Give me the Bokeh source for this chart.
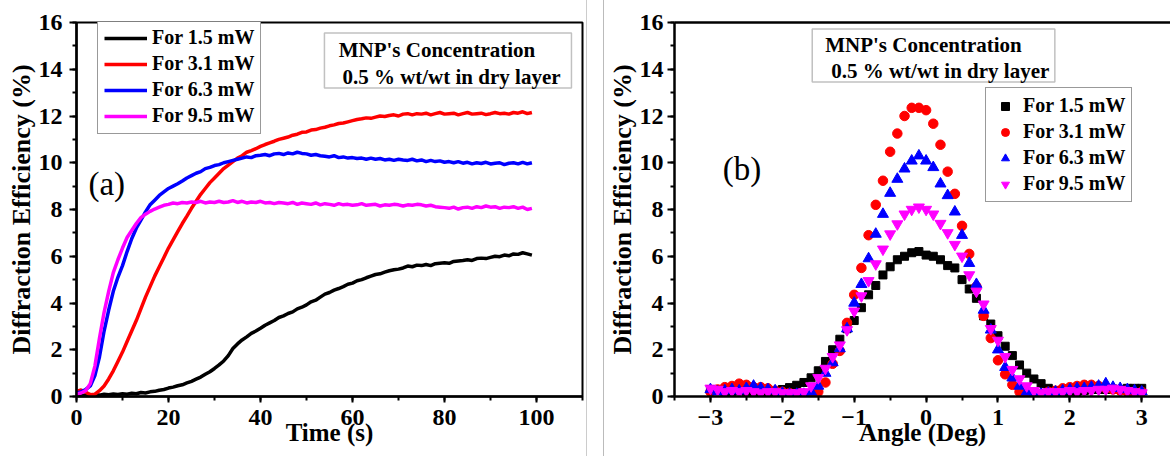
from bokeh.plotting import figure
from bokeh.models import (Legend, LegendItem, Label, BoxAnnotation, LinearAxis,
                          SingleIntervalTicker, FixedTicker, Range1d, Div)
from bokeh.layouts import row
from bokeh.embed import file_html
from bokeh.resources import INLINE

# ---------------- data: panel (a) ----------------
time_s = list(range(100))

de_15_mw = [0.05, 0.03, 0.06, 0.04, 0.08, 0.06, 0.1, 0.08, 0.11, 0.09,
            0.12, 0.1, 0.14, 0.12, 0.17, 0.15, 0.2, 0.22, 0.27, 0.3,
            0.36, 0.4, 0.46, 0.5, 0.58, 0.65, 0.74, 0.83, 0.95, 1.06,
            1.2, 1.35, 1.52, 1.75, 2.05, 2.25, 2.42, 2.55, 2.7, 2.8,
            2.92, 3.05, 3.15, 3.25, 3.38, 3.45, 3.55, 3.62, 3.75, 3.82,
            3.92, 4.05, 4.12, 4.25, 4.38, 4.45, 4.55, 4.62, 4.7, 4.8,
            4.85, 4.95, 5.0, 5.08, 5.15, 5.22, 5.25, 5.32, 5.38, 5.42,
            5.45, 5.5, 5.58, 5.55, 5.62, 5.6, 5.65, 5.6, 5.68, 5.7,
            5.72, 5.7, 5.78, 5.8, 5.82, 5.85, 5.82, 5.9, 5.92, 5.9,
            5.95, 6.0, 5.98, 6.05, 6.02, 6.1, 6.08, 6.15, 6.1, 6.05]

de_31_mw = [0.22, 0.28, 0.18, 0.08, 0.1, 0.25, 0.45, 0.75, 1.1, 1.5,
            1.9, 2.35, 2.8, 3.25, 3.75, 4.25, 4.7, 5.15, 5.55, 5.95,
            6.35, 6.7, 7.05, 7.4, 7.72, 8.05, 8.35, 8.65, 8.9, 9.15,
            9.35, 9.55, 9.75, 9.9, 10.05, 10.2, 10.3, 10.45, 10.52, 10.6,
            10.7, 10.78, 10.85, 10.92, 11.0, 11.05, 11.1, 11.18, 11.22, 11.3,
            11.32, 11.4, 11.42, 11.48, 11.52, 11.58, 11.62, 11.68, 11.7, 11.75,
            11.8, 11.85, 11.88, 11.92, 11.9, 11.95, 12.0, 11.98, 12.02, 12.05,
            12.0, 12.08, 12.1, 12.05, 12.1, 12.08, 12.12, 12.05, 12.1, 12.15,
            12.08, 12.1, 12.12, 12.05, 12.1, 12.15, 12.08, 12.1, 12.12, 12.06,
            12.1, 12.15, 12.1, 12.12, 12.08, 12.15, 12.12, 12.18, 12.1, 12.15]

de_63_mw = [0.15, 0.2, 0.3, 0.45, 0.9, 1.7, 2.8, 3.7, 4.5, 5.1,
            5.6, 6.2, 6.75, 7.2, 7.55, 7.9, 8.2, 8.4, 8.6, 8.75,
            8.9, 9.0, 9.1, 9.22, 9.35, 9.45, 9.55, 9.62, 9.75, 9.8,
            9.88, 9.92, 10.0, 10.05, 10.1, 10.15, 10.2, 10.25, 10.22, 10.3,
            10.32, 10.35, 10.3, 10.38, 10.4, 10.35, 10.42, 10.38, 10.45, 10.4,
            10.38, 10.32, 10.35, 10.3, 10.28, 10.25, 10.3, 10.22, 10.25, 10.2,
            10.22, 10.18, 10.2, 10.15, 10.2, 10.15, 10.18, 10.12, 10.15, 10.1,
            10.15, 10.12, 10.1, 10.15, 10.08, 10.12, 10.05, 10.1, 10.05, 10.08,
            10.02, 10.05, 10.0, 10.05, 9.98, 10.02, 9.95, 10.0, 9.97, 10.02,
            9.95, 9.98, 10.0, 9.92, 9.98, 10.0, 9.95, 10.02, 9.95, 10.0]

de_95_mw = [0.1, 0.15, 0.25, 0.55, 1.3, 2.5, 3.6, 4.5, 5.3, 5.85,
            6.35, 6.8, 7.1, 7.4, 7.65, 7.8, 7.92, 8.02, 8.1, 8.18,
            8.22, 8.28, 8.25, 8.3, 8.28, 8.32, 8.3, 8.35, 8.28, 8.32,
            8.3, 8.35, 8.3, 8.32, 8.38, 8.3, 8.35, 8.28, 8.32, 8.3,
            8.35, 8.28, 8.3, 8.25, 8.3, 8.28, 8.25, 8.3, 8.22, 8.28,
            8.25, 8.22, 8.28, 8.2, 8.25, 8.22, 8.18, 8.25, 8.2, 8.22,
            8.18, 8.2, 8.25, 8.18, 8.2, 8.22, 8.15, 8.2, 8.18, 8.22,
            8.2, 8.15, 8.2, 8.18, 8.22, 8.2, 8.15, 8.18, 8.12, 8.1,
            8.08, 8.05, 8.1, 8.02, 8.08, 8.1, 8.05, 8.12, 8.08, 8.15,
            8.1, 8.12, 8.05, 8.1, 8.08, 8.12, 8.05, 8.1, 8.0, 8.05]

# ---------------- data: panel (b) ----------------
angle_deg = [round(-3.0 + 0.1 * i, 1) for i in range(61)]

ang_15_mw = [0.3, 0.25, 0.2, 0.2, 0.25, 0.2, 0.2, 0.18, 0.2, 0.22,
             0.3, 0.38, 0.48, 0.6, 0.8, 1.1, 1.5, 2.0, 2.45, 2.9,
             3.25, 3.8, 4.35, 4.75, 5.2, 5.55, 5.85, 6.0, 6.15, 6.2,
             6.05, 6.0, 5.85, 5.6, 5.5, 5.0, 4.6, 4.2, 3.45, 3.1,
             2.6, 2.15, 1.75, 1.35, 1.0, 0.75, 0.55, 0.35, 0.25, 0.2,
             0.2, 0.22, 0.25, 0.3, 0.3, 0.3, 0.32, 0.3, 0.35, 0.35, 0.35]

ang_31_mw = [0.2, 0.3, 0.4, 0.45, 0.55, 0.5, 0.4, 0.4, 0.35, 0.25,
             0.2, 0.15, 0.1, 0.05, 0.1, 0.2, 0.6, 1.4, 1.95, 3.15,
             4.35, 5.5, 6.9, 8.2, 9.23, 10.47, 11.25, 12.0, 12.35, 12.35,
             12.25, 11.67, 10.77, 9.62, 8.67, 7.3, 6.1, 4.7, 3.45, 2.5,
             1.55, 0.95, 0.5, 0.2, 0.1, 0.05, 0.1, 0.2, 0.25, 0.35,
             0.4, 0.45, 0.5, 0.5, 0.45, 0.35, 0.3, 0.25, 0.2, 0.15, 0.2]

ang_63_mw = [0.3, 0.2, 0.25, 0.3, 0.25, 0.35, 0.45, 0.35, 0.3, 0.25,
             0.15, 0.1, 0.1, 0.1, 0.2, 0.45, 1.0, 1.45, 2.05, 2.9,
             4.0, 4.8, 5.9, 6.95, 7.8, 8.7, 9.3, 9.74, 10.08, 10.3,
             10.08, 9.8, 9.1, 8.6, 7.9, 6.9, 5.7, 4.8, 3.7, 2.85,
             2.0, 1.25, 0.8, 0.45, 0.2, 0.1, 0.1, 0.15, 0.2, 0.25,
             0.3, 0.35, 0.35, 0.4, 0.45, 0.55, 0.4, 0.35, 0.3, 0.25, 0.2]

ang_95_mw = [0.35, 0.3, 0.2, 0.25, 0.2, 0.25, 0.2, 0.15, 0.2, 0.2,
             0.15, 0.15, 0.15, 0.2, 0.45, 0.8, 1.2, 1.7, 2.2, 2.85,
             3.65, 4.3, 4.95, 5.67, 6.3, 6.95, 7.38, 7.8, 8.0, 8.1,
             8.0, 7.8, 7.4, 7.0, 6.5, 6.0, 5.2, 4.5, 3.95, 2.9,
             2.4, 1.7, 1.15, 0.75, 0.45, 0.25, 0.15, 0.2, 0.2, 0.2,
             0.25, 0.2, 0.25, 0.25, 0.3, 0.3, 0.35, 0.3, 0.25, 0.2, 0.15]

series_labels = ["For 1.5 mW", "For 3.1 mW", "For 6.3 mW", "For 9.5 mW"]
series_colors = ["#000000", "#FF0000", "#0000FF", "#FF00FF"]

SERIF = "Liberation Serif"


def style_axis(ax, label_standoff=7, axis_label_standoff=0, axis_label_size="25px", tick_out=7):
    ax.axis_line_width = 2.5
    ax.axis_line_color = "black"
    ax.major_tick_line_width = 2
    ax.minor_tick_line_width = 2
    ax.major_tick_line_color = "black"
    ax.minor_tick_line_color = "black"
    ax.major_tick_out = tick_out
    ax.major_tick_in = 0
    ax.minor_tick_out = 4
    ax.minor_tick_in = 0
    ax.major_label_text_font = SERIF
    ax.major_label_text_font_style = "bold"
    ax.major_label_text_font_size = "24px"
    ax.major_label_text_color = "black"
    ax.major_label_standoff = label_standoff
    ax.axis_label_text_font = SERIF
    ax.axis_label_text_font_style = "bold"
    ax.axis_label_text_font_size = axis_label_size
    ax.axis_label_text_color = "black"
    ax.axis_label_standoff = axis_label_standoff


def style_legend(leg, glyph_w, pad):
    leg.label_text_font = SERIF
    leg.label_text_font_style = "bold"
    leg.label_text_font_size = "20px"
    leg.label_text_color = "black"
    leg.glyph_width = glyph_w
    leg.glyph_height = 20
    leg.label_height = 20
    leg.label_standoff = 5
    leg.padding = pad
    leg.spacing = 3
    leg.margin = 0
    leg.border_line_color = "#333333"
    leg.border_line_width = 1.5
    leg.background_fill_color = "white"
    leg.background_fill_alpha = 1.0


# ---------------- panel (a) ----------------
p1 = figure(width=586, height=456, x_range=Range1d(0, 110), y_range=Range1d(0, 16),
            output_backend="svg", toolbar_location=None,
            min_border_left=76, min_border_right=4, min_border_top=22, min_border_bottom=60)
p1.xgrid.visible = False
p1.ygrid.visible = False
p1.outline_line_color = "black"
p1.outline_line_width = 2
p1.xaxis.ticker = SingleIntervalTicker(interval=20, num_minor_ticks=2)
p1.yaxis.ticker = SingleIntervalTicker(interval=2, num_minor_ticks=2)
p1.xaxis.axis_label = "Time (s)"
p1.yaxis.axis_label = "Diffraction Efficiency (%)"
style_axis(p1.xaxis[0], label_standoff=7, axis_label_standoff=-9, axis_label_size="25px", tick_out=6)
style_axis(p1.yaxis[0], label_standoff=7, axis_label_standoff=0, axis_label_size="26px")

items1 = []
for vals, col, lab in zip([de_15_mw, de_31_mw, de_63_mw, de_95_mw], series_colors, series_labels):
    r = p1.line(time_s, vals, line_color=col, line_width=3.5)
    items1.append(LegendItem(label=lab, renderers=[r]))
leg1 = Legend(items=items1, location=(21, 262))
style_legend(leg1, 43, 6)
p1.add_layout(leg1)

p1.add_layout(BoxAnnotation(left=53.9, right=107.6, top=15.55, bottom=13.2,
                            fill_color="white", fill_alpha=1.0,
                            line_color="#333333", line_width=1.5))
p1.add_layout(Label(x=57.0, y=14.82, text="MNP's Concentration", text_font=SERIF,
                    text_font_style="bold", text_font_size="21px", text_baseline="middle",
                    text_color="black"))
p1.add_layout(Label(x=57.8, y=13.67, text="0.5 % wt/wt in dry layer", text_font=SERIF,
                    text_font_style="bold", text_font_size="21px", text_baseline="middle",
                    text_color="black"))
p1.add_layout(Label(x=2.6, y=9.09, text="(a)", text_font=SERIF, text_font_style="normal",
                    text_font_size="33px", text_baseline="middle", text_color="black"))

sep = Div(text="", width=18, height=456, margin=0,
          styles={"border-left": "1px solid #cccccc", "border-right": "1px solid #bbbbbb",
                  "box-sizing": "border-box"})

# ---------------- panel (b) ----------------
p2 = figure(width=566, height=456, x_range=Range1d(-3.5, 3.4), y_range=Range1d(0, 16),
            output_backend="svg", toolbar_location=None,
            min_border_left=67, min_border_right=0, min_border_top=22, min_border_bottom=60)
p2.xgrid.visible = False
p2.ygrid.visible = False
p2.outline_line_color = None
p2.xaxis.ticker = SingleIntervalTicker(interval=1, num_minor_ticks=2)
p2.yaxis.ticker = SingleIntervalTicker(interval=2, num_minor_ticks=2)
p2.xaxis.axis_label = "Angle (Deg)"
p2.yaxis.axis_label = "Diffraction Efficiency (%)"
style_axis(p2.xaxis[0], label_standoff=7, axis_label_standoff=-9, axis_label_size="25px", tick_out=6)
style_axis(p2.yaxis[0], label_standoff=4, axis_label_standoff=0, axis_label_size="26px")
top_ax = LinearAxis(ticker=FixedTicker(ticks=[]), axis_line_width=2.5, axis_line_color="black",
                    major_label_text_font_size="0px", major_tick_out=0, minor_tick_out=0)
p2.add_layout(top_ax, "above")

markers = ["square", "circle", "triangle", "inverted_triangle"]
sizes = [8, 9.5, 11, 11]
items2 = []
for vals, col, lab, mk, sz in zip([ang_15_mw, ang_31_mw, ang_63_mw, ang_95_mw],
                                  series_colors, series_labels, markers, sizes):
    r = p2.scatter(angle_deg, vals, marker=mk, size=sz, fill_color=col, line_color=col)
    items2.append(LegendItem(label=lab, renderers=[r]))
leg2 = Legend(items=items2, location=(311, 194))
style_legend(leg2, 26, 6)
p2.add_layout(leg2)

p2.add_layout(BoxAnnotation(left=-1.584, right=1.791, top=15.72, bottom=13.45,
                            fill_color="white", fill_alpha=1.0,
                            line_color="#333333", line_width=1.5))
p2.add_layout(Label(x=-1.404, y=15.04, text="MNP's Concentration", text_font=SERIF,
                    text_font_style="bold", text_font_size="21px", text_baseline="middle",
                    text_color="black"))
p2.add_layout(Label(x=-1.32, y=13.93, text="0.5 % wt/wt in dry layer", text_font=SERIF,
                    text_font_style="bold", text_font_size="21px", text_baseline="middle",
                    text_color="black"))
p2.add_layout(Label(x=-2.83, y=9.73, text="(b)", text_font=SERIF, text_font_style="normal",
                    text_font_size="33px", text_baseline="middle", text_color="black"))

layout = row(p1, sep, p2)
open("out.html", "w").write(file_html(layout, INLINE))
